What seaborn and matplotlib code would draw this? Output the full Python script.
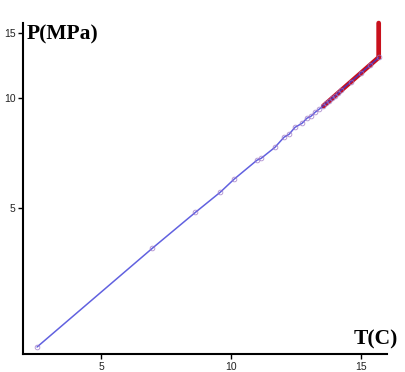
import matplotlib
matplotlib.use("Agg")
import matplotlib.pyplot as plt
import matplotlib.ticker as mticker
import seaborn as sns
import pandas as pd

# valores
temp = [2.54, 6.98, 8.63, 9.59, 10.12, 11.00, 11.16, 11.69, 12.04, 12.23,
        12.46, 12.73, 12.92, 13.07, 13.23, 13.38, 13.53, 13.65, 13.76, 13.88,
        13.99, 14.11, 14.22, 14.60, 15.00, 15.35, 15.68]
pres = [2.09, 3.89, 4.87, 5.53, 6.00, 6.76, 6.84, 7.33, 7.81, 7.95,
        8.31, 8.52, 8.80, 8.90, 9.13, 9.30, 9.48, 9.66, 9.78, 9.97,
        10.09, 10.29, 10.48, 11.05, 11.70, 12.28, 12.89]

# tramo rojo grueso
temp_rojo = [13.55, 15.68, 15.68]
pres_rojo = [9.50, 12.89, 16.0]

ticks_x = [5, 10, 15]
ticks_y = [5, 10, 15]

sns.set_style("ticks")
plt.rcParams['font.family'] = ['Liberation Sans', 'DejaVu Sans']

fig = plt.figure(figsize=(4.06, 3.72), dpi=100)
ax = fig.add_axes([0.0567, 0.0484, 0.8965, 0.8896])

df_rojo = pd.DataFrame({"T": temp_rojo, "P": pres_rojo})
df = pd.DataFrame({"T": temp, "P": pres})

sns.lineplot(data=df_rojo, x="T", y="P", sort=False, estimator=None, errorbar=None,
             ax=ax, color="#c8101c", linewidth=3.4, solid_capstyle="round",
             solid_joinstyle="miter", clip_on=False)
sns.lineplot(data=df, x="T", y="P", sort=False, estimator=None, errorbar=None,
             ax=ax, color="#3a3ad8", linewidth=1.1,
             marker="o", markersize=3.4, markerfacecolor="none",
             markeredgecolor="#9a72c4", markeredgewidth=0.6, alpha=0.8)

ax.set_yscale("log")
ax.set_xlim(2, 16)
ax.set_ylim(2, 16)
ax.xaxis.set_major_locator(mticker.FixedLocator(ticks_x))
ax.yaxis.set_major_locator(mticker.FixedLocator(ticks_y))
ax.yaxis.set_major_formatter(mticker.FormatStrFormatter("%d"))
ax.yaxis.set_minor_locator(mticker.NullLocator())
ax.tick_params(axis="both", labelsize=7.5, length=3.5, width=1.0, pad=2,
               colors="black", labelcolor="#222222")

for s in ["top", "right"]:
    ax.spines[s].set_visible(False)
for s in ["left", "bottom"]:
    ax.spines[s].set_linewidth(1.5)
    ax.spines[s].set_color("black")

ax.set_xlabel("")
ax.set_ylabel("")
fig.text(27 / 406, 1 - 24 / 372, "P(MPa)", family="Liberation Serif", fontweight="bold",
         fontsize=15.5, color="black", ha="left", va="top")
fig.text(398 / 406, 1 - 349 / 372, "T(C)", family="Liberation Serif", fontweight="bold",
         fontsize=15.5, color="black", ha="right", va="bottom")

fig.savefig("out.png", dpi=100)
